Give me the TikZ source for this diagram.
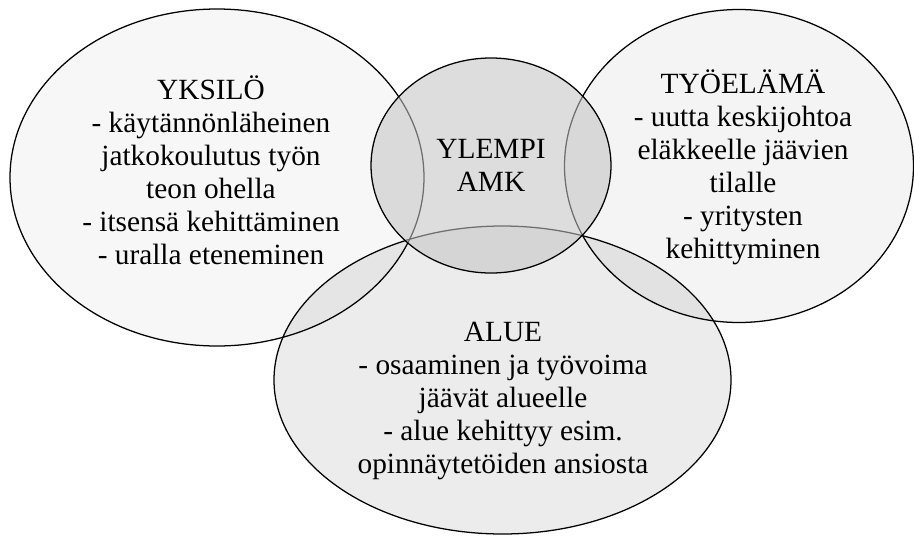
\documentclass[tikz,border=0pt]{standalone}
\usepackage{fontspec}
\setmainfont{Liberation Serif}
\begin{document}
\begin{tikzpicture}[x=0.75pt,y=-0.75pt,
  venn/.style={draw=black,line width=0.95pt},
  lbl/.style={align=center,font=\fontsize{22pt}{24.8pt}\selectfont,inner sep=0pt}]
\useasboundingbox (0,0) rectangle (914,536);
% left: YKSILO
\draw[venn,fill=black,fill opacity=0.03] (217,177.5) ellipse [x radius=207,y radius=168.5];
% right: TYOELAMA
\draw[venn,fill=black,fill opacity=0.045] (739,166) ellipse [x radius=174.5,y radius=156.5];
% bottom: ALUE
\draw[venn,fill=black,fill opacity=0.075] (502.5,380) ellipse [x radius=228.5,y radius=154];
% centre: YLEMPI AMK
\draw[venn,fill=black!23,fill opacity=0.57] (491,165.5) ellipse [x radius=120,y radius=107.5];
% texts
\node[lbl] (yksilo) at (211,170) {YKSILÖ\\- käytännönläheinen\\jatkokoulutus työn\\teon ohella\\- itsensä kehittäminen\\- uralla eteneminen};
\node[lbl] (tyoelama) at (743,167) {TYÖELÄMÄ\\- uutta keskijohtoa\\eläkkeelle jäävien\\tilalle\\- yritysten\\kehittyminen};
\node[lbl] (ylempi) at (491,165) {YLEMPI\\AMK};
\node[lbl] (alue) at (503,401) {ALUE\\- osaaminen ja työvoima\\jäävät alueelle\\- alue kehittyy esim.\\opinnäytetöiden ansiosta};
\end{tikzpicture}
\end{document}
